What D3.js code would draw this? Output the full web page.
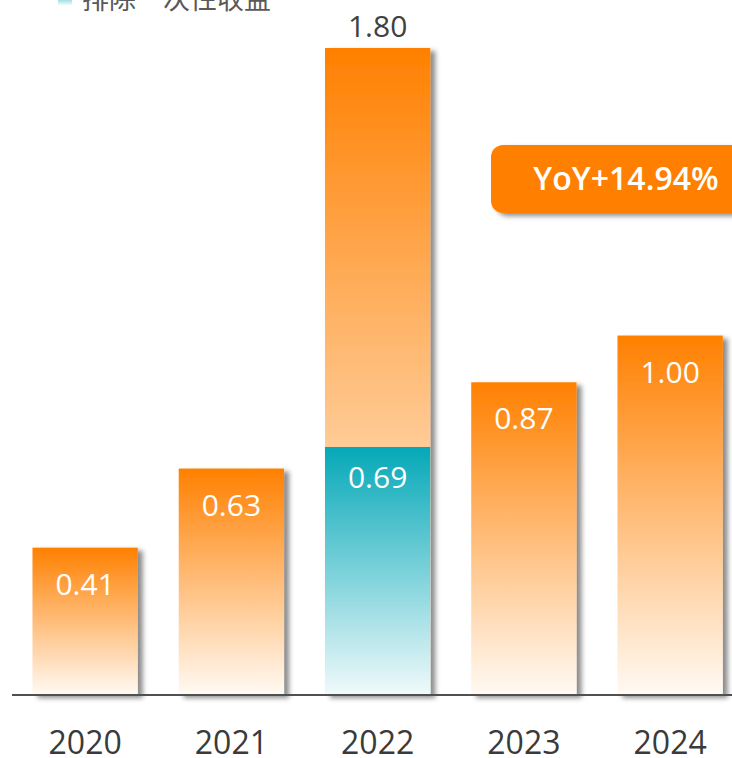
<!DOCTYPE html>
<html>
<head>
<meta charset="utf-8">
<script src="https://cdn.jsdelivr.net/npm/d3@7"></script>
<style>
  body { margin: 0; background: #fff; }
  svg { display: block; }
</style>
</head>
<body>
<figure id="eps" style="margin:0"></figure>
<script>
const years = ['2020', '2021', '2022', '2023', '2024'];
const eps = [0.41, 0.63, 1.80, 0.87, 1.00];
// value excluding one-time gains (only shown for 2022)
const epsExcluded = [null, null, 0.69, null, null];
const legendLabel = '排除一次性收益';
const yoyLabel = 'YoY+14.94%';

const width = 732;
const height = 758;
const baseY = 695;
const font = '"Open Sans", "Noto Sans CJK SC", sans-serif';

const svg = d3.select('figure#eps')
  .append('svg')
  .attr('width', width)
  .attr('height', height);

const defs = svg.append('defs');

const orangeGrad = defs.append('linearGradient')
  .attr('id', 'orange').attr('x1', 0).attr('y1', 0).attr('x2', 0).attr('y2', 1);
orangeGrad.append('stop').attr('offset', '0%').attr('stop-color', '#ff8000');
orangeGrad.append('stop').attr('offset', '100%').attr('stop-color', '#fffaf4');

const tealGrad = defs.append('linearGradient')
  .attr('id', 'teal').attr('x1', 0).attr('y1', 0).attr('x2', 0).attr('y2', 1);
tealGrad.append('stop').attr('offset', '0%').attr('stop-color', '#05a8b8');
tealGrad.append('stop').attr('offset', '100%').attr('stop-color', '#f0fafb');

const shadow = defs.append('filter')
  .attr('id', 'shadow').attr('x', '-20%').attr('y', '-20%').attr('width', '150%').attr('height', '150%');
shadow.append('feDropShadow')
  .attr('dx', 5).attr('dy', 3).attr('stdDeviation', 2.5)
  .attr('flood-color', '#000').attr('flood-opacity', 0.45);

const x = d3.scaleBand()
  .domain(years)
  .range([12, 743.25])
  .paddingInner(0.28)
  .paddingOuter(0.14);

const y = d3.scaleLinear()
  .domain([0, 1.8])
  .range([baseY, 48]);

const data = years.map((yr, i) => ({ year: yr, value: eps[i], excl: epsExcluded[i] }));

// legend (cut off at the top of the picture)
svg.append('rect')
  .attr('x', 58).attr('y', -10).attr('width', 14).attr('height', 15)
  .attr('fill', 'url(#teal)');
svg.append('text')
  .attr('x', 82).attr('y', 9)
  .attr('font-family', font).attr('font-size', 27)
  .attr('fill', '#595959')
  .text(legendLabel);

// bars
svg.selectAll('rect.bar')
  .data(data)
  .enter()
  .append('rect')
  .attr('class', 'bar')
  .attr('x', d => x(d.year))
  .attr('y', d => y(d.value))
  .attr('width', x.bandwidth())
  .attr('height', d => baseY - y(d.value))
  .attr('fill', 'url(#orange)')
  .attr('filter', 'url(#shadow)');

const exclData = data.filter(d => d.excl != null);

svg.selectAll('rect.excl')
  .data(exclData)
  .enter()
  .append('rect')
  .attr('class', 'excl')
  .attr('x', d => x(d.year))
  .attr('y', d => y(d.excl))
  .attr('width', x.bandwidth())
  .attr('height', d => baseY - y(d.excl))
  .attr('fill', 'url(#teal)');

// value labels
svg.selectAll('text.val')
  .data(data)
  .enter()
  .append('text')
  .attr('class', 'val')
  .attr('x', d => x(d.year) + x.bandwidth() / 2)
  .attr('y', d => d.excl != null ? y(d.value) - 11 : y(d.value) + 47)
  .attr('text-anchor', 'middle')
  .attr('font-family', font).attr('font-size', 30)
  .attr('fill', d => d.excl != null ? '#404040' : '#fff')
  .text(d => d.value.toFixed(2));

svg.selectAll('text.exclval')
  .data(exclData)
  .enter()
  .append('text')
  .attr('class', 'exclval')
  .attr('x', d => x(d.year) + x.bandwidth() / 2)
  .attr('y', d => y(d.excl) + 41)
  .attr('text-anchor', 'middle')
  .attr('font-family', font).attr('font-size', 30)
  .attr('fill', '#fff')
  .text(d => d.excl.toFixed(2));

// x axis
const xAxis = svg.append('g')
  .attr('transform', 'translate(0,' + baseY + ')')
  .call(d3.axisBottom(x).tickSize(0).tickPadding(59));
xAxis.select('.domain')
  .attr('d', 'M12,0H732')
  .attr('stroke', '#505050')
  .attr('stroke-width', 2);
xAxis.selectAll('text')
  .attr('font-family', font)
  .attr('font-size', 32)
  .attr('fill', '#3a3a3a')
  .attr('dy', 0);

// YoY badge
svg.append('rect')
  .attr('x', 491).attr('y', 145).attr('width', 260).attr('height', 68)
  .attr('rx', 12)
  .attr('fill', '#ff8000')
  .attr('filter', 'url(#shadow)');
svg.append('text')
  .attr('x', 626).attr('y', 190)
  .attr('text-anchor', 'middle')
  .attr('font-family', font).attr('font-size', 32).attr('font-weight', 600)
  .attr('fill', '#fff')
  .text(yoyLabel);
</script>
</body>
</html>
